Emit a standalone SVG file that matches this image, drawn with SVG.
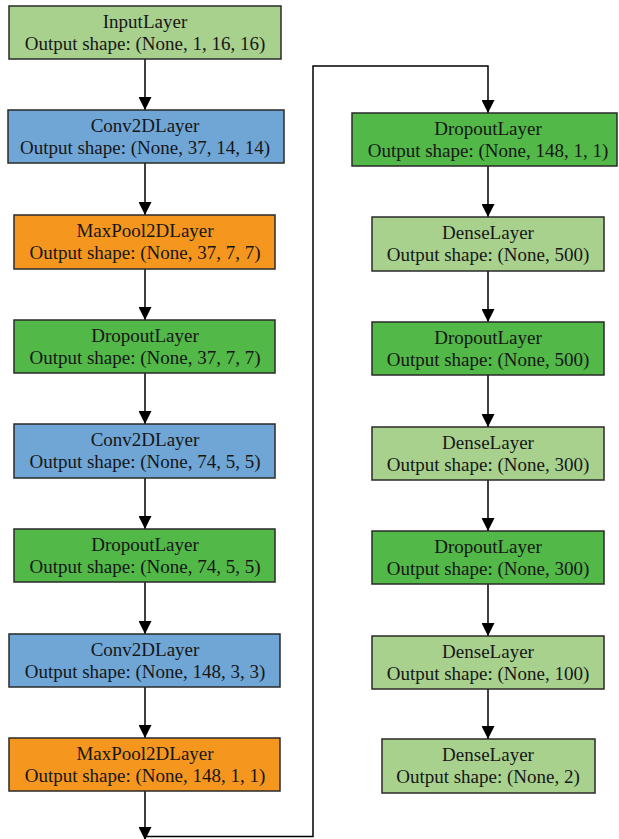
<svg xmlns="http://www.w3.org/2000/svg" width="619" height="839" viewBox="0 0 619 839">
<style>
  .box{stroke:#2a2a2a;stroke-width:1.5}
  .inp{fill:#a9d18e}
  .conv{fill:#6fa6d6}
  .pool{fill:#f5961e}
  .drop{fill:#52b848}
  .dense{fill:#a9d18e}
  text{font-family:"Liberation Serif","Times New Roman",serif;font-size:19px;fill:#161616;text-anchor:middle}
  .edge{fill:none;stroke:#000;stroke-width:1.5}
</style>
<defs>
  <marker id="arr" markerUnits="userSpaceOnUse" markerWidth="13" markerHeight="13" refX="13" refY="6.5" orient="auto">
    <path d="M0,0 L13,6.5 L0,13 z" fill="#000"/>
  </marker>
</defs>
<rect width="619" height="839" fill="#fff"/>

<g id="connectors">
  <line class="edge" x1="145" y1="59" x2="145" y2="110" marker-end="url(#arr)"/>
  <line class="edge" x1="145" y1="163" x2="145" y2="215" marker-end="url(#arr)"/>
  <line class="edge" x1="145" y1="269" x2="145" y2="320" marker-end="url(#arr)"/>
  <line class="edge" x1="145" y1="373" x2="145" y2="424" marker-end="url(#arr)"/>
  <line class="edge" x1="145" y1="478" x2="145" y2="529" marker-end="url(#arr)"/>
  <line class="edge" x1="145" y1="582" x2="145" y2="634" marker-end="url(#arr)"/>
  <line class="edge" x1="145" y1="687" x2="145" y2="738" marker-end="url(#arr)"/>
  <line class="edge" x1="145" y1="791" x2="145" y2="840" marker-end="url(#arr)"/>
  <polyline class="edge" points="145,836.5 313,836.5 313,66 488,66 488,113" marker-end="url(#arr)"/>
  <line class="edge" x1="488" y1="166" x2="488" y2="217" marker-end="url(#arr)"/>
  <line class="edge" x1="488" y1="271" x2="488" y2="322" marker-end="url(#arr)"/>
  <line class="edge" x1="488" y1="375" x2="488" y2="427" marker-end="url(#arr)"/>
  <line class="edge" x1="488" y1="480" x2="488" y2="531" marker-end="url(#arr)"/>
  <line class="edge" x1="488" y1="584" x2="488" y2="636" marker-end="url(#arr)"/>
  <line class="edge" x1="488" y1="689" x2="488" y2="739" marker-end="url(#arr)"/>
</g>

<g id="n1"><rect class="box inp" x="9" y="6" width="272" height="53"/><text x="145" y="28">InputLayer</text><text x="145" y="50">Output shape: (None, 1, 16, 16)</text></g>
<g id="n2"><rect class="box conv" x="8" y="110" width="276" height="53"/><text x="145" y="132">Conv2DLayer</text><text x="145" y="154">Output shape: (None, 37, 14, 14)</text></g>
<g id="n3"><rect class="box pool" x="14" y="215" width="261" height="54"/><text x="145" y="237">MaxPool2DLayer</text><text x="145" y="259">Output shape: (None, 37, 7, 7)</text></g>
<g id="n4"><rect class="box drop" x="14" y="320" width="261" height="53"/><text x="145" y="342">DropoutLayer</text><text x="145" y="364">Output shape: (None, 37, 7, 7)</text></g>
<g id="n5"><rect class="box conv" x="14" y="424" width="261" height="54"/><text x="145" y="446">Conv2DLayer</text><text x="145" y="468">Output shape: (None, 74, 5, 5)</text></g>
<g id="n6"><rect class="box drop" x="14" y="529" width="261" height="53"/><text x="145" y="551">DropoutLayer</text><text x="145" y="573">Output shape: (None, 74, 5, 5)</text></g>
<g id="n7"><rect class="box conv" x="9" y="634" width="271" height="53"/><text x="145" y="656">Conv2DLayer</text><text x="145" y="678">Output shape: (None, 148, 3, 3)</text></g>
<g id="n8"><rect class="box pool" x="9" y="738" width="271" height="53"/><text x="145" y="760">MaxPool2DLayer</text><text x="145" y="782">Output shape: (None, 148, 1, 1)</text></g>

<g id="n9"><rect class="box drop" x="352" y="113" width="265" height="53"/><text x="488" y="135">DropoutLayer</text><text x="488" y="157">Output shape: (None, 148, 1, 1)</text></g>
<g id="n10"><rect class="box dense" x="372" y="217" width="232" height="54"/><text x="488" y="239">DenseLayer</text><text x="488" y="261">Output shape: (None, 500)</text></g>
<g id="n11"><rect class="box drop" x="372" y="322" width="232" height="53"/><text x="488" y="344">DropoutLayer</text><text x="488" y="366">Output shape: (None, 500)</text></g>
<g id="n12"><rect class="box dense" x="372" y="427" width="232" height="53"/><text x="488" y="449">DenseLayer</text><text x="488" y="471">Output shape: (None, 300)</text></g>
<g id="n13"><rect class="box drop" x="372" y="531" width="232" height="53"/><text x="488" y="553">DropoutLayer</text><text x="488" y="575">Output shape: (None, 300)</text></g>
<g id="n14"><rect class="box dense" x="372" y="636" width="232" height="53"/><text x="488" y="658">DenseLayer</text><text x="488" y="680">Output shape: (None, 100)</text></g>
<g id="n15"><rect class="box dense" x="382" y="739" width="213" height="54"/><text x="488" y="761">DenseLayer</text><text x="488" y="783">Output shape: (None, 2)</text></g>
</svg>
